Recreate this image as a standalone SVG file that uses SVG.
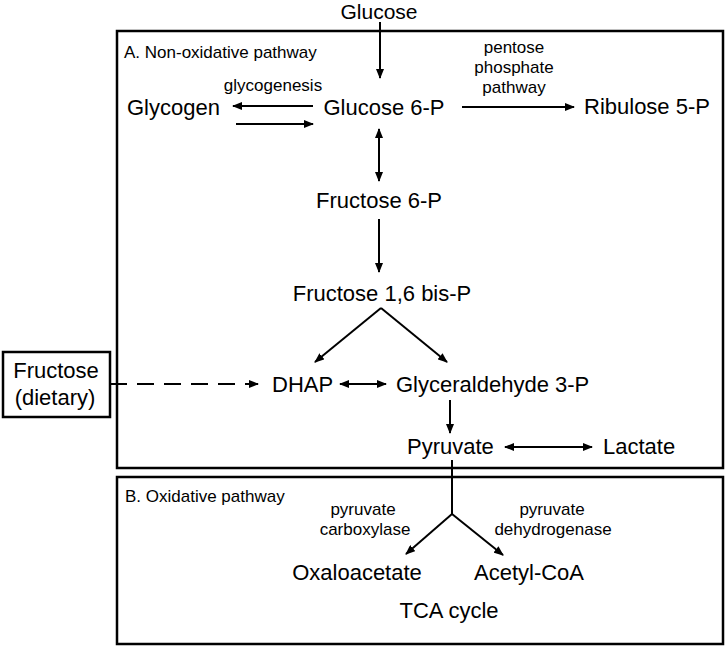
<svg xmlns="http://www.w3.org/2000/svg" width="726" height="648" viewBox="0 0 726 648">
<style>
text{font-family:"Liberation Sans",Arial,sans-serif;fill:#000}
.big{font-size:22px}
.small{font-size:17px}
.mid{text-anchor:middle}
.box{fill:none;stroke:#000;stroke-width:2.5}
.ln{fill:none;stroke:#000;stroke-width:2}
</style>
<defs>
<marker id="ah" markerUnits="userSpaceOnUse" markerWidth="10" markerHeight="8" refX="9" refY="4" orient="auto-start-reverse">
<path d="M0,0 L10,4 L0,8 z" fill="#000"/>
</marker>
</defs>
<rect width="726" height="648" fill="#fff"/>
<g id="panelA"><rect class="box" x="117" y="31" width="606" height="437"/><text class="small" x="124" y="58">A. Non-oxidative pathway</text></g>
<g id="panelB"><rect class="box" x="117" y="477" width="606" height="167"/><text class="small" x="125" y="502">B. Oxidative pathway</text></g>
<g id="fructose-dietary"><rect class="box" x="3" y="352" width="107" height="65"/><text class="big mid" x="56" y="378">Fructose</text><text class="big mid" x="55" y="405">(dietary)</text></g>
<g id="glucose"><text class="mid" style="font-size:21px" x="379" y="19">Glucose</text></g>
<g id="glycogen"><text class="big" x="127" y="115">Glycogen</text></g>
<g id="g6p"><text class="big mid" x="384" y="115">Glucose 6-P</text></g>
<g id="r5p"><text class="big" x="584" y="114">Ribulose 5-P</text></g>
<g id="f6p"><text class="big mid" x="379" y="208">Fructose 6-P</text></g>
<g id="f16bp"><text class="big mid" x="382" y="301">Fructose 1,6 bis-P</text></g>
<g id="dhap"><text class="big" x="272" y="392">DHAP</text></g>
<g id="g3p"><text class="big" x="396" y="392">Glyceraldehyde 3-P</text></g>
<g id="pyruvate"><text class="big" x="407" y="454">Pyruvate</text></g>
<g id="lactate"><text class="big" x="603" y="454">Lactate</text></g>
<g id="oaa"><text class="big mid" x="357" y="580">Oxaloacetate</text></g>
<g id="acetylcoa"><text class="big mid" x="529" y="580">Acetyl-CoA</text></g>
<g id="tca"><text class="big mid" x="449" y="618">TCA cycle</text></g>
<g id="labels">
<text class="small mid" x="273" y="91">glycogenesis</text>
<text class="small mid" x="514" y="53">pentose</text>
<text class="small mid" x="514" y="73">phosphate</text>
<text class="small mid" x="514" y="93">pathway</text>
<text class="small mid" x="363" y="515">pyruvate</text>
<text class="small mid" x="365" y="535">carboxylase</text>
<text class="small mid" x="552" y="515">pyruvate</text>
<text class="small mid" x="553" y="535">dehydrogenase</text>
</g>
<g id="connectors">
<line class="ln" x1="380" y1="22" x2="380" y2="78" marker-end="url(#ah)"/>
<line class="ln" x1="313" y1="106" x2="233" y2="106" marker-end="url(#ah)"/>
<line class="ln" x1="236" y1="124" x2="313" y2="124" marker-end="url(#ah)"/>
<line class="ln" x1="462" y1="107" x2="574" y2="107" marker-end="url(#ah)"/>
<line class="ln" x1="379" y1="129" x2="379" y2="181" marker-start="url(#ah)" marker-end="url(#ah)"/>
<line class="ln" x1="379" y1="219" x2="379" y2="272" marker-end="url(#ah)"/>
<line class="ln" x1="381" y1="308" x2="315" y2="362" marker-end="url(#ah)"/>
<line class="ln" x1="381" y1="308" x2="447" y2="362" marker-end="url(#ah)"/>
<line class="ln" x1="110" y1="384" x2="258" y2="384" stroke-dasharray="17 10" marker-end="url(#ah)"/>
<line class="ln" x1="340" y1="384" x2="386" y2="384" marker-start="url(#ah)" marker-end="url(#ah)"/>
<line class="ln" x1="450" y1="400" x2="450" y2="433" marker-end="url(#ah)"/>
<line class="ln" x1="505" y1="447" x2="592" y2="447" marker-start="url(#ah)" marker-end="url(#ah)"/>
<polyline class="ln" points="452,460 452,514"/>
<line class="ln" x1="452" y1="514" x2="406" y2="554" marker-end="url(#ah)"/>
<line class="ln" x1="452" y1="514" x2="503" y2="555" marker-end="url(#ah)"/>
</g>
</svg>
